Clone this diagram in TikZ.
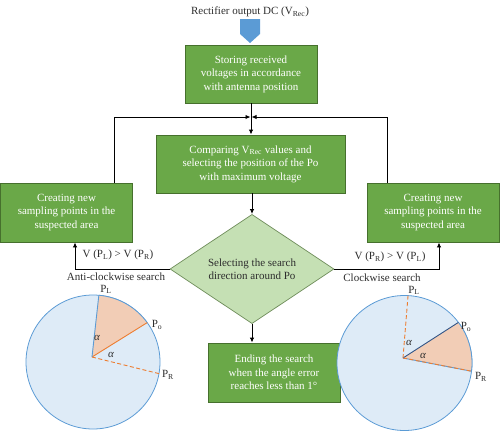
\documentclass[tikz,border=0pt]{standalone}
\usepackage{fontspec}
\setmainfont{Liberation Serif}
\usetikzlibrary{shapes.geometric,arrows.meta,calc}
\definecolor{boxfill}{RGB}{106,168,72}
\definecolor{boxborder}{RGB}{70,112,45}
\definecolor{diafill}{RGB}{197,224,180}
\definecolor{diaborder}{RGB}{110,140,90}
\definecolor{circfill}{RGB}{222,235,247}
\definecolor{circline}{RGB}{91,155,213}
\definecolor{wedgefill}{RGB}{242,205,182}
\definecolor{orangeline}{RGB}{237,125,49}
\definecolor{darkblue}{RGB}{50,85,135}
\definecolor{txt}{RGB}{45,45,45}
\newcommand{\fsz}{\fontsize{11}{13.5}\selectfont}
\begin{document}
\begin{tikzpicture}[x=1pt,y=-1pt,
  box/.style={draw=boxborder, fill=boxfill, text=white, align=center, font=\fsz, line width=0.9pt, inner sep=1pt},
  dia/.style={diamond, draw=diaborder, fill=diafill, text=txt, align=center, font=\fsz, line width=0.7pt, inner sep=0pt},
  lbl/.style={text=txt, font=\fsz, inner sep=0pt},
  conn/.style={draw=black, line width=0.9pt},
  arr/.style={conn, -{Latex[length=5pt,width=4.5pt]}},
  circ/.style={fill=circfill, draw=circline, line width=0.8pt},
  olined/.style={draw=orangeline, line width=0.9pt, dash pattern=on 4pt off 2.5pt},
  oline/.style={draw=orangeline, line width=0.9pt},
  bline/.style={draw=circline, line width=0.9pt},
  dbline/.style={draw=darkblue, line width=0.9pt}]
\useasboundingbox (0,0) rectangle (500,431);

% title and input arrow
\node[lbl] (title) at (250,12) {Rectifier output DC (V\textsubscript{Rec})};
\fill[circline] (240,19) -- (260,19) -- (260,34) -- (250,43) -- (240,34) -- cycle;
\coordinate (intip) at (250,43);

% boxes
\node[box, minimum width=132pt, minimum height=58pt] (b1) at (251,74)
  {Storing received\\voltages in accordance\\with antenna position};
\node[box, minimum width=189pt, minimum height=58pt] (b2) at (250.5,164)
  {Comparing V\textsubscript{Rec} values and\\selecting the position of the Po\\with maximum voltage};
\node[box, minimum width=132pt, minimum height=59pt] (b3) at (66.5,212.5)
  {Creating new\\sampling points in the\\suspected area};
\node[box, minimum width=132pt, minimum height=59pt] (b4) at (433,212.5)
  {Creating new\\sampling points in the\\suspected area};
\node[dia, minimum width=164pt, minimum height=92pt] (d) at (252,269)
  {Selecting the search\\direction around Po};
\node[box, minimum width=132pt, minimum height=59pt] (b5) at (274,372.5)
  {Ending the search\\when the angle error\\reaches less than 1°};

% connectors
\coordinate (j) at (251,117);
\coordinate (jl) at (114,117);
\coordinate (jr) at (387,117);
\draw[arr] (b1.south -| j) -- (b2.north -| j);
\draw[arr] (b3.north -| jl) -- (jl) -- ([xshift=-0.5pt]j);
\draw[arr] (b4.north -| jr) -- (jr) -- ([xshift=0.5pt]j);
\draw[arr] (b2.south -| d.north) -- (d.north);
\draw[arr] (d.south) -- (d.south |- b5.north);
\coordinate (bl) at (75,242);
\coordinate (br) at (439,242);
\draw[arr] (d.west) -| (b3.south -| bl);
\draw[arr] (d.east) -| (b4.south -| br);

% branch labels
\node[lbl] (l1) at (118,255) {V (P\textsubscript{L}) > V (P\textsubscript{R})};
\node[lbl] (l2) at (116,277) {Anti-clockwise search};
\node[lbl] (r1) at (390,257) {V (P\textsubscript{R}) > V (P\textsubscript{L})};
\node[lbl] (r2) at (382,277.5) {Clockwise search};

% left circle
\coordinate (cL) at (93,362);
\coordinate (vL) at (92,357);
\draw[circ] (cL) circle[radius=67];
\coordinate (LPL) at ($(cL)+(-85:67)$);
\coordinate (LPo) at ($(cL)+(-36:67)$);
\coordinate (LPR) at ($(cL)+(10:67)$);
\fill[wedgefill] (vL) -- (LPL) arc[start angle=-85, end angle=-36, radius=67] -- cycle;
\draw[circline, line width=0.8pt] (LPL) arc[start angle=-85, end angle=-36, radius=67];
\draw[oline] (vL) -- (LPo);
\draw[olined] (vL) -- (LPR);
\draw[bline] (vL) -- (LPL);
\node[lbl, font=\fsz\itshape] (aL1) at (97,338) {α};
\node[lbl, font=\fsz\itshape] (aL2) at (111,355) {α};
\node[lbl] (tLPL) at (106,289.5) {P\textsubscript{L}};
\node[lbl] (tLPo) at (157,325) {P\textsubscript{o}};
\node[lbl] (tLPR) at (168,375) {P\textsubscript{R}};

% right circle
\coordinate (cR) at (404.5,363);
\coordinate (vR) at (403,358);
\draw[circ] (cR) circle[radius=67.5];
\coordinate (RPL) at ($(cR)+(-87:67.5)$);
\coordinate (RPo) at ($(cR)+(-37:67.5)$);
\coordinate (RPR) at ($(cR)+(7:67.5)$);
\fill[wedgefill] (vR) -- (RPo) arc[start angle=-37, end angle=7, radius=67.5] -- cycle;
\draw[circline, line width=0.8pt] (RPo) arc[start angle=-37, end angle=7, radius=67.5];
\draw[olined] (vR) -- (RPL);
\draw[dbline] (vR) -- (RPo);
\draw[bline] (vR) -- (RPR);
\draw[olined] (vR) -- (RPR);
\node[lbl, font=\fsz\itshape] (aR1) at (409,343) {α};
\node[lbl, font=\fsz\itshape] (aR2) at (423,356) {α};
\node[lbl] (tRPL) at (414,290.5) {P\textsubscript{L}};
\node[lbl] (tRPo) at (466,327) {P\textsubscript{o}};
\node[lbl] (tRPR) at (481,377) {P\textsubscript{R}};
\end{tikzpicture}
\end{document}
